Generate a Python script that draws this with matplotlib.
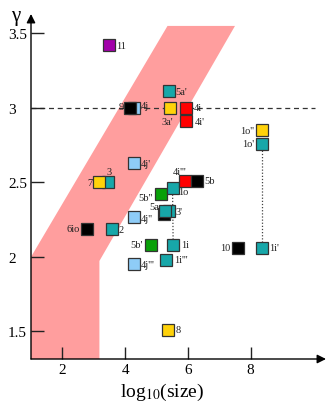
import matplotlib
matplotlib.use("Agg")
import matplotlib.pyplot as plt
from matplotlib.patches import Polygon

# ---- data ----
labels = ["11", "4j", "9", "5a'", "3a'", "4i", "4i'", "1o''", "1o'", "1i'", "10",
          "4j'", "3", "7", "6io", "2", "5b''", "4j''", "", "3'", "5a", "1o",
          "4i'''", "5b", "5b'", "1i", "1i'''", "4j'''", "8"]
log_size = [3.47, 4.27, 4.14, 5.39, 5.42, 5.95, 5.95, 8.36, 8.36, 8.36, 7.61,
            4.27, 3.44, 3.18, 2.77, 3.57, 5.13, 4.27, 5.23, 5.39, 5.26, 5.51,
            5.90, 6.28, 4.81, 5.53, 5.31, 4.28, 5.35]
gamma = [3.42, 3.00, 3.00, 3.11, 3.00, 3.00, 2.91, 2.85, 2.76, 2.06, 2.06,
         2.63, 2.50, 2.50, 2.19, 2.19, 2.42, 2.27, 2.29, 2.305, 2.305, 2.46,
         2.51, 2.51, 2.08, 2.08, 1.98, 1.95, 1.51]
kinds = ["purple", "lightblue", "black", "teal", "yellow", "red", "red", "yellow", "teal", "teal", "black",
         "lightblue", "teal", "yellow", "black", "teal", "green", "lightblue", "black", "teal", "teal", "teal",
         "red", "black", "green", "teal", "teal", "lightblue", "yellow"]
band_x = [1.0, 1.0, 5.35, 7.50, 3.18, 3.18]
band_y = [1.315, 2.0, 3.55, 3.55, 1.973, 1.315]
xticks = [2, 4, 6, 8]
yticks = [1.5, 2, 2.5, 3, 3.5]
ytick_labels = ["1.5", "2", "2.5", "3", "3.5"]
ref_gamma = 3.0
dotted_links = [("1o'", "1i'"), ("1o", "1i")]

# ---- style ----
palette = {"purple": "#A200AA", "lightblue": "#8ECCF7", "black": "#000000",
           "teal": "#17A7A9", "yellow": "#FFD20A", "red": "#FF0000", "green": "#08A008"}
# label offsets in pixels (dx, dy, ha)
offsets = {"11": (8, 0, "left"), "4j": (7, 2, "left"), "9": (-6, 1, "right"),
           "5a'": (7, 0, "left"), "3a'": (-2, -14, "center"), "4i": (7, 0, "left"),
           "4i'": (8, 0, "left"), "1o''": (-8, 0, "right"), "1o'": (-8, 0, "right"),
           "1i'": (7, 0, "left"), "10": (-8, 0, "right"), "4j'": (7, 0, "left"),
           "3": (1, 11, "center"), "7": (-7, 0, "right"), "6io": (-7, 0, "right"),
           "2": (7, -1, "left"), "5b''": (-8, -3, "right"), "4j''": (7, -2, "left"),
           "": (0, 0, "left"), "3'": (7, 0, "left"), "5a": (-6, 5, "right"),
           "1o": (6, -3, "left"), "4i'''": (-5, 9, "center"), "5b": (8, 0, "left"),
           "5b'": (-8, 0, "right"), "1i": (8, 0, "left"), "1i'''": (8, 0, "left"),
           "4j'''": (7, 0, "left"), "8": (8, 0, "left")}

plt.rcParams["font.family"] = ["Liberation Serif", "DejaVu Serif"]
plt.rcParams["mathtext.fontset"] = "stix"

fig = plt.figure(figsize=(3.28, 4.06), dpi=100)
W, H = 328, 406
left_px, right_px, bottom_px, top_px = 31, 326, 360, 15
ax = fig.add_axes([left_px / W, (H - bottom_px) / H,
                   (right_px - left_px) / W, (bottom_px - top_px) / H])
ax.set_xlim(1.0, 10.4)
ax.set_ylim(1.315, 3.63)
for s in ax.spines.values():
    s.set_visible(False)

# band
ax.add_patch(Polygon(list(zip(band_x, band_y)), closed=True,
                     facecolor="#FF9E9E", edgecolor="none", zorder=0))

# reference dashed line
ax.plot([1.0, 10.05], [ref_gamma, ref_gamma], ls=(0, (4, 3)), color="#333333", lw=0.9, zorder=1)

# dotted links
for a, b in dotted_links:
    ia, ib = labels.index(a), labels.index(b)
    ax.plot([log_size[ia], log_size[ib]], [gamma[ia], gamma[ib]],
            ls=(0, (1, 1.5)), color="#444444", lw=0.9, zorder=1)

# markers + labels
for i, (lab, xv, yv, k) in enumerate(zip(labels, log_size, gamma, kinds)):
    ax.plot([xv], [yv], marker="s", ms=8.3, mfc=palette[k], mec="#333333",
            mew=0.9, ls="none", zorder=3 + i * 0.01)
    if lab:
        dx, dy, ha = offsets[lab]
        ax.annotate(lab, (xv, yv), xytext=(dx, dy), textcoords="offset pixels",
                    ha=ha, va="center", fontsize=7.5, color="#222222", zorder=5)

# axes arrows
ax.annotate("", xy=(1.0, 0), xytext=(0, 0), xycoords="axes fraction",
            arrowprops=dict(arrowstyle="-|>", color="black", lw=1.0,
                            mutation_scale=13, shrinkA=0, shrinkB=0))
ax.annotate("", xy=(0, 1.0), xytext=(0, 0), xycoords="axes fraction",
            arrowprops=dict(arrowstyle="-|>", color="black", lw=1.0,
                            mutation_scale=13, shrinkA=0, shrinkB=0))

ax.set_xticks(xticks)
ax.set_xticklabels([str(t) for t in xticks], fontsize=11)
ax.set_yticks(yticks)
ax.set_yticklabels(ytick_labels, fontsize=11)
ax.tick_params(axis="x", direction="in", length=9, width=1, pad=3, color="#222222")
ax.tick_params(axis="y", direction="in", length=9, width=1, pad=16.5, color="#222222")
for t in ax.get_yticklabels():
    t.set_horizontalalignment("left")

fig.text(162 / W, 1 - 397 / H, r"log$_{10}$(size)", fontsize=14, ha="center", va="baseline")
fig.text(16 / W, 1 - 16 / H, "γ", fontsize=15, ha="center", va="center")

fig.savefig("out.png", dpi=100)
